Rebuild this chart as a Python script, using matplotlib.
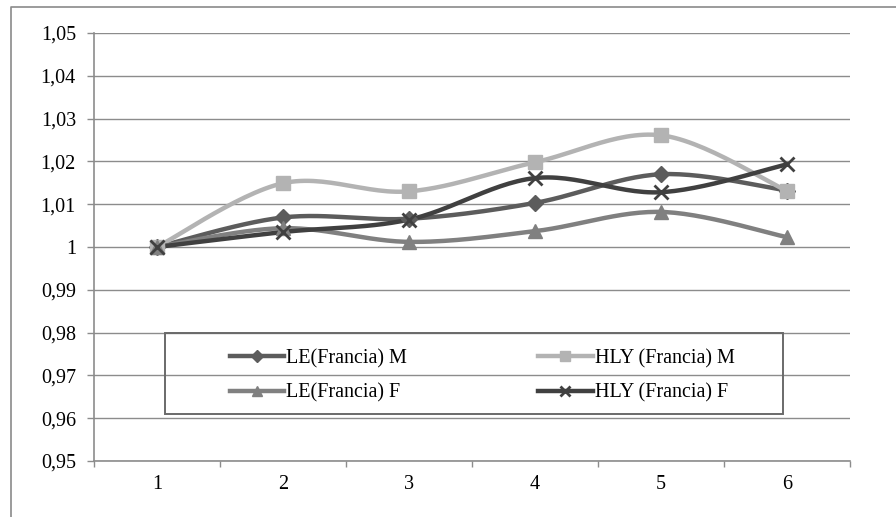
import numpy as np
import matplotlib
matplotlib.use("Agg")
import matplotlib.pyplot as plt
from matplotlib.lines import Line2D
from matplotlib.patches import Rectangle
from matplotlib.ticker import FixedLocator, FuncFormatter

plt.rcParams['font.family'] = ['Liberation Serif', 'DejaVu Serif']

categories = ['1', '2', '3', '4', '5', '6']
le_m = [1.0, 1.0069, 1.0066, 1.0103, 1.0170, 1.0132]
hly_m = [1.0, 1.0149, 1.0130, 1.0198, 1.0261, 1.0131]
le_f = [1.0, 1.0044, 1.0012, 1.0037, 1.0082, 1.0023]
hly_f = [1.0, 1.0035, 1.0064, 1.0161, 1.0128, 1.0193]

series = [
    ('LE(Francia) M', le_m, '#5c5c5c', 'D', 8),
    ('HLY (Francia) M', hly_m, '#b3b3b3', 's', 10),
    ('LE(Francia) F', le_f, '#808080', '^', 10),
    ('HLY (Francia) F', hly_f, '#404040', 'x', 10),
]


def smooth(xs, ys, n=30):
    # bezier curve through the points, spreadsheet-style smoothing
    p = np.column_stack([xs, ys]).astype(float)
    out = [p[0]]
    t = np.linspace(0, 1, n)[1:, None]
    for i in range(len(p) - 1):
        p0 = p[max(i - 1, 0)]
        p3 = p[min(i + 2, len(p) - 1)]
        a, d = p[i], p[i + 1]
        b = a + (d - p0) / 6
        c = d - (p3 - a) / 6
        seg = (1 - t) ** 3 * a + 3 * (1 - t) ** 2 * t * b + 3 * (1 - t) * t ** 2 * c + t ** 3 * d
        out.extend(seg)
    out = np.array(out)
    return out[:, 0], out[:, 1]


fig = plt.figure(figsize=(8.96, 5.17), dpi=100)
ax = fig.add_axes([94 / 896, 1 - 461 / 517, (850 - 94) / 896, (461 - 33) / 517])

x = np.arange(len(categories))
grid_c = '#8c8c8c'
for name, vals, col, mk, ms in series:
    sx, sy = smooth(x, vals)
    ax.plot(sx, sy, color=col, lw=3.2, solid_capstyle='round', zorder=3)
    if mk == 'x':
        ax.plot(x, vals, ls='none', marker=mk, ms=ms, mew=2.0, color=col, zorder=4)
    else:
        ax.plot(x, vals, ls='none', marker=mk, ms=ms, color=col, mec=col, zorder=4)

ax.set_xlim(-0.5, 5.5)
ax.set_ylim(0.95, 1.05)
yt = np.round(np.arange(0.95, 1.0501, 0.01), 2)
ax.yaxis.set_major_locator(FixedLocator(yt))
ax.yaxis.set_major_formatter(FuncFormatter(lambda v, _: ('%g' % round(v, 2)).replace('.', ',')))
ax.grid(axis='y', color=grid_c, lw=1.0, zorder=1)

ax.set_xticks(np.arange(-0.5, 5.6, 1.0))
ax.set_xticklabels([])
ax.set_xticks(x, minor=True)
ax.set_xticklabels(categories, minor=True)
ax.tick_params(axis='x', which='major', direction='out', length=4, color=grid_c, width=1)
ax.tick_params(axis='x', which='minor', length=0, pad=10, labelsize=14.5)
ax.tick_params(axis='y', direction='out', length=5, color=grid_c, width=1, pad=8, labelsize=14.5)

for s in ['top', 'right']:
    ax.spines[s].set_visible(False)
for s in ['left', 'bottom']:
    ax.spines[s].set_color(grid_c)
    ax.spines[s].set_linewidth(1.2)

# legend box (transparent, gridlines show through)
box = Rectangle((165 / 896, 1 - 414 / 517), (783 - 165) / 896, 81 / 517,
                transform=fig.transFigure, facecolor='none', edgecolor='#6a6a6a',
                lw=1.4, zorder=5)
fig.patches.append(box)

handles = {}
for name, vals, col, mk, ms in series:
    handles[name] = Line2D([], [], color=col, lw=3.2, marker=mk,
                           ms=ms * 0.75, mew=2.0 if mk == 'x' else 1.0, mec=col)
# column-first fill, so list the left column then the right one
order = ['LE(Francia) M', 'LE(Francia) F', 'HLY (Francia) M', 'HLY (Francia) F']
leg = fig.legend([handles[k] for k in order], order, ncol=2, frameon=False,
                 loc='center left', bbox_to_anchor=(220 / 896, 1 - 376 / 517),
                 borderpad=0, handlelength=2.7, handletextpad=0.1,
                 columnspacing=6.5, labelspacing=0.75, fontsize=14.5)
leg.set_zorder(6)

# outer chart border
fig.add_artist(Line2D([11 / 896, 11 / 896, 1], [0, 1 - 7 / 517, 1 - 7 / 517],
                      transform=fig.transFigure, color='#8a8a8a', lw=1.2))

fig.savefig('out.png', dpi=100)
